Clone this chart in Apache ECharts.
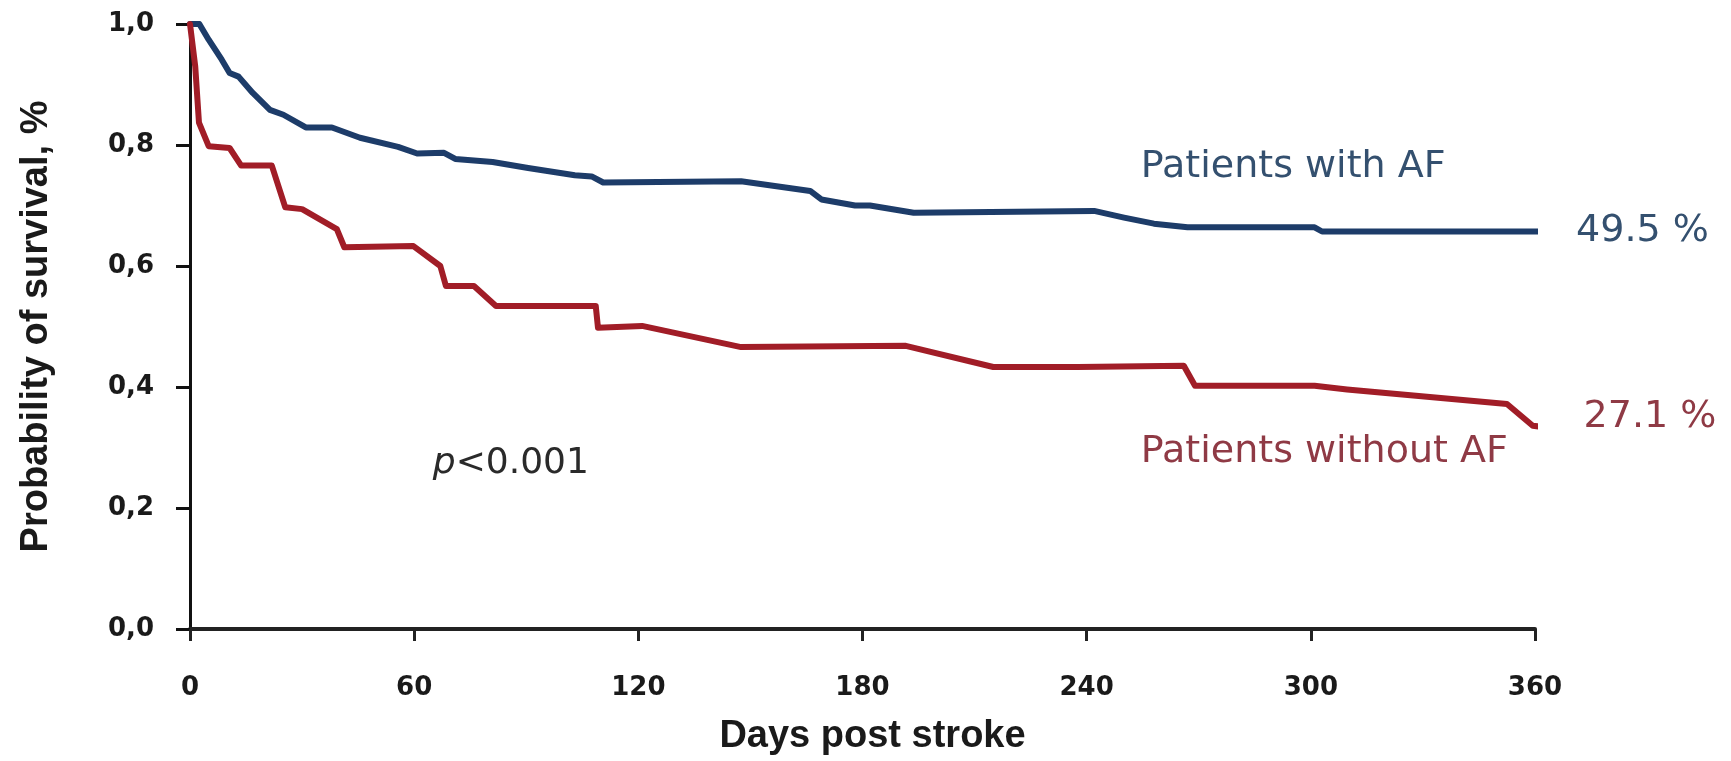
<!DOCTYPE html>
<html>
<head>
<meta charset="utf-8">
<script src="https://cdn.jsdelivr.net/npm/echarts@6/dist/echarts.min.js"></script>
<style>
  html, body { margin: 0; padding: 0; background: #ffffff; }
  #chart { width: 1731px; height: 761px; }
</style>
</head>
<body>
<div id="chart"></div>
<script>
// Kaplan–Meier survival after stroke, by atrial fibrillation status
const afDays      = [0, 2.5, 5, 8.5, 10.6, 13, 16.8, 21.4, 25, 31, 38, 45.5, 55.7, 60.8, 68, 71, 81, 90.5, 103, 107.5, 110.6, 147.5, 166, 169, 178, 182, 193.7, 242, 250, 258, 267, 301, 303, 362];
const afSurvival  = [1.0, 1.0, 0.974, 0.941, 0.919, 0.913, 0.886, 0.858, 0.850, 0.829, 0.829, 0.812, 0.797, 0.786, 0.787, 0.777, 0.772, 0.762, 0.750, 0.748, 0.738, 0.740, 0.724, 0.710, 0.700, 0.700, 0.688, 0.691, 0.680, 0.670, 0.664, 0.664, 0.657, 0.657];

const noAfDays     = [0, 1.4, 2.4, 5, 10.6, 13.7, 21.9, 25.5, 30, 39.3, 41.3, 59.8, 67, 68.5, 76, 81.9, 108.6, 109.2, 121, 147.5, 191.6, 215, 237.7, 266, 269, 301, 309.7, 352.5, 359.4, 362];
const noAfSurvival = [1.0, 0.930, 0.837, 0.798, 0.795, 0.766, 0.766, 0.697, 0.694, 0.661, 0.631, 0.633, 0.600, 0.567, 0.567, 0.534, 0.534, 0.498, 0.501, 0.466, 0.468, 0.433, 0.433, 0.435, 0.402, 0.402, 0.396, 0.372, 0.336, 0.334];

const xTicks = [0, 60, 120, 180, 240, 300, 360];
const yTickLabels = ['0,0', '0,2', '0,4', '0,6', '0,8', '1,0'];

const groupNames = ['Patients with AF', 'Patients without AF'];
const endLabels  = ['49.5 %', '27.1 %'];
const pValueText = '<0.001';

const BLUE = '#1d3c69';
const RED  = '#a11d27';
const BLUE_TEXT = '#34506f';
const RED_TEXT  = '#8f3a45';
const ARIAL = '"Liberation Sans", Arial, sans-serif';
const WIDE  = '"DejaVu Sans", Verdana, sans-serif';

const pairs = (xs, ys) => xs.map((x, i) => [x, ys[i]]);

const chart = echarts.init(document.getElementById('chart'), null, { renderer: 'canvas' });

chart.setOption({
  backgroundColor: '#ffffff',
  animation: false,
  grid: { left: 190, right: 196, top: 24, bottom: 130, containLabel: false },
  xAxis: {
    type: 'value', min: 0, max: 360, interval: 60,
    name: 'Days post stroke', nameLocation: 'middle', nameGap: 89,
    nameTextStyle: { fontFamily: ARIAL, fontWeight: 'bold', fontSize: 38, color: '#1a1a1a', padding: [0, 0, 0, 20] },
    axisLine: { lineStyle: { color: '#222', width: 4 } },
    axisTick: { show: true, inside: false, length: 12, lineStyle: { color: '#222', width: 3 } },
    axisLabel: {
      margin: 46, fontFamily: WIDE, fontWeight: 'bold', fontSize: 26, color: '#1a1a1a',
      formatter: v => String(xTicks[xTicks.indexOf(v)])
    },
    splitLine: { show: false }
  },
  yAxis: {
    type: 'value', min: 0, max: 1, interval: 0.2,
    name: 'Probability of survival, %', nameLocation: 'middle', nameGap: 134, nameRotate: 90,
    nameTextStyle: { fontFamily: ARIAL, fontWeight: 'bold', fontSize: 38, color: '#1a1a1a' },
    axisLine: { show: true, lineStyle: { color: '#111', width: 3 } },
    axisTick: { show: true, inside: false, length: 14, lineStyle: { color: '#111', width: 3 } },
    axisLabel: {
      margin: 36, fontFamily: WIDE, fontWeight: 'bold', fontSize: 26, color: '#1a1a1a',
      formatter: v => yTickLabels[Math.round(v * 5)]
    },
    splitLine: { show: false }
  },
  series: [
    {
      name: groupNames[0], type: 'line', data: pairs(afDays, afSurvival),
      showSymbol: false, clip: false, z: 3,
      lineStyle: { color: BLUE, width: 6, join: 'round', cap: 'round' }
    },
    {
      name: groupNames[1], type: 'line', data: pairs(noAfDays, noAfSurvival),
      showSymbol: false, clip: false, z: 3,
      lineStyle: { color: RED, width: 6, join: 'round', cap: 'round' }
    }
  ]
});

// Group names, end-of-follow-up figures and the log-rank p value
const at = (d, v) => chart.convertToPixel({ gridIndex: 0 }, [d, v]);
const textEl = (pos, text, color, size) => ({
  type: 'text', x: pos[0], y: pos[1],
  style: { text, fill: color, font: `${size}px ${WIDE}`, verticalAlign: 'middle', align: 'left' }
});

chart.setOption({
  graphic: [
    textEl(at(254.5, 0.763), groupNames[0], BLUE_TEXT, 38),
    textEl(at(371, 0.658), endLabels[0], BLUE_TEXT, 38),
    textEl(at(254.5, 0.293), groupNames[1], RED_TEXT, 38),
    textEl(at(373, 0.351), endLabels[1], RED_TEXT, 38),
    {
      type: 'text', x: at(65, 0.273)[0], y: at(65, 0.273)[1],
      style: {
        text: '{i|p}' + pValueText,
        fill: '#2a2a2a', font: `36px ${WIDE}`, verticalAlign: 'middle', align: 'left',
        rich: { i: { fontStyle: 'italic', fontSize: 36, fontFamily: WIDE, fill: '#2a2a2a' } }
      }
    }
  ]
});
</script>
</body>
</html>
